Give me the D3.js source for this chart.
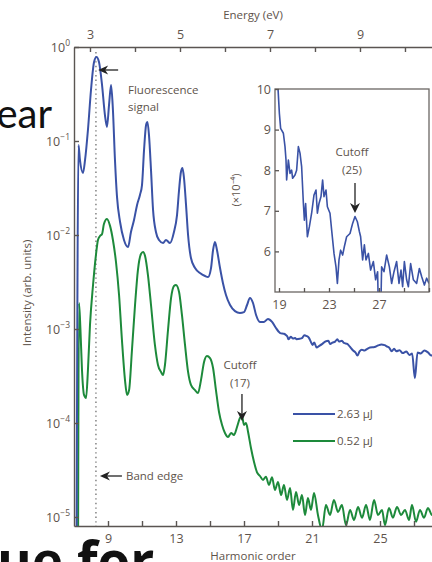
<!DOCTYPE html>
<html><head><meta charset="utf-8">
<script src="https://cdn.jsdelivr.net/npm/d3@7"></script>
<style>
body{margin:0;background:#fff;}
svg{display:block;font-family:'Open Sans',sans-serif;}
</style>
</head><body>
<svg id="chart" width="432" height="562"></svg>
<script>
// ---- data ----
const photonEnergy = 0.3778;            // eV per harmonic order
const harmonicTicks = [9, 11, 13, 15, 17, 19, 21, 23, 25, 27, 29, 31];
const harmonicLabels = [9, 13, 17, 21, 25];
const energyTicks = [3, 4, 5, 6, 7, 8, 9, 10, 11];
const energyLabels = [3, 5, 7, 9];
const decadeExps = [0, -1, -2, -3, -4, -5];
const insetTicksX = [19, 21, 23, 25, 27, 29, 31];
const insetLabelsX = [19, 23, 27];
const insetTicksY = [6, 7, 8, 9, 10];
const bandEdge = 8.29;                  // harmonic order of the band edge
const legendLabels = ["2.63 μJ", "0.52 μJ"];

// 2.63 μJ, harmonic order vs intensity, orders 7–19
const blueLow = [
  [7.14, 1e-6], [7.265, 0.0906], [7.35, 0.0628], [7.53, 0.0457], [7.65, 0.0628],
  [7.82, 0.131], [8.0, 0.349], [8.18, 0.692], [8.32, 0.783], [8.47, 0.692],
  [8.65, 0.394], [8.82, 0.189], [8.94, 0.141], [9.06, 0.241], [9.18, 0.394],
  [9.29, 0.214], [9.41, 0.0628], [9.53, 0.0254], [9.71, 0.01375], [9.94, 0.00885],
  [10.18, 0.00745], [10.35, 0.01076], [10.53, 0.01445], [10.71, 0.0209], [10.88, 0.0267],
  [11.0, 0.034], [11.12, 0.080], [11.24, 0.148], [11.32, 0.159], [11.41, 0.116],
  [11.53, 0.049], [11.65, 0.0185], [11.82, 0.01076], [12.0, 0.00885], [12.24, 0.00822],
  [12.41, 0.00885], [12.65, 0.00822], [12.88, 0.01076], [13.06, 0.0163], [13.18, 0.0301],
  [13.29, 0.0468], [13.38, 0.0516], [13.47, 0.0404], [13.59, 0.0209], [13.71, 0.01],
  [13.88, 0.00569], [14.12, 0.00445], [14.41, 0.00394], [14.71, 0.00366], [14.88, 0.00357],
  [15.06, 0.00445], [15.18, 0.00692], [15.29, 0.00843], [15.41, 0.00692], [15.59, 0.00445],
  [15.76, 0.00309], [15.94, 0.0023], [16.18, 0.0018], [16.47, 0.00155], [16.76, 0.00148],
  [17.0, 0.00151], [17.18, 0.0018], [17.35, 0.00214], [17.53, 0.00189], [17.71, 0.00141],
  [17.94, 0.00119], [18.18, 0.00119], [18.41, 0.00128], [18.65, 0.00119]
];
// 2.63 μJ, orders 18.9–31, intensity in units of 1e-4
const blueHigh = [
  [18.87, 10.3], [19.03, 9.40], [19.13, 9.03], [19.35, 8.91], [19.48, 8.58], [19.56, 8.25],
  [19.61, 7.76], [19.75, 8.25], [19.88, 7.92], [20.01, 8.0], [20.09, 7.80], [20.28, 7.88],
  [20.41, 8.0], [20.55, 8.58], [20.68, 8.42], [20.81, 8.09], [20.95, 7.18], [21.03, 6.77],
  [21.13, 7.18], [21.27, 6.36], [21.43, 6.61], [21.61, 6.94], [21.80, 7.39], [21.96, 7.51],
  [22.07, 6.94], [22.2, 7.18], [22.36, 7.35], [22.49, 7.76], [22.6, 7.35], [22.76, 7.51],
  [22.87, 7.10], [23.08, 6.94], [23.21, 6.53], [23.4, 5.95], [23.56, 5.62], [23.67, 5.21],
  [23.8, 5.79], [23.93, 6.03], [24.09, 5.91], [24.23, 6.12], [24.41, 6.36], [24.68, 6.44],
  [24.89, 6.69], [25.08, 6.86], [25.27, 6.73], [25.43, 6.49], [25.53, 6.36], [25.69, 5.79],
  [25.83, 6.16], [25.96, 5.79], [26.15, 5.95], [26.33, 5.54], [26.55, 5.75], [26.73, 5.30],
  [26.89, 5.50], [27.05, 3.0], [27.21, 5.62], [27.4, 5.50], [27.61, 5.91], [27.83, 5.62],
  [28.01, 5.21], [28.2, 5.50], [28.41, 5.75], [28.6, 5.21], [28.76, 5.54], [28.89, 5.13],
  [29.03, 5.75], [29.21, 5.30], [29.35, 5.13], [29.53, 5.70], [29.75, 5.30], [30.01, 5.21],
  [30.23, 5.58], [30.41, 5.38], [30.63, 5.17], [30.81, 5.34], [31.0, 5.21]
];
// 0.52 μJ, harmonic order vs intensity
const green = [
  [7.23, 1e-6], [7.294, 0.00189], [7.38, 0.000976], [7.47, 0.000366], [7.59, 0.000199],
  [7.71, 0.000185], [7.82, 0.000366], [7.94, 0.0011], [8.12, 0.00294], [8.29, 0.00612],
  [8.41, 0.00885], [8.53, 0.00976], [8.65, 0.01025], [8.76, 0.0131], [8.94, 0.0148],
  [9.12, 0.0125], [9.29, 0.00885], [9.47, 0.00516], [9.65, 0.0023], [9.82, 0.000764],
  [10.0, 0.000286], [10.12, 0.000199], [10.24, 0.000224], [10.41, 0.000598], [10.59, 0.0018],
  [10.76, 0.00424], [10.94, 0.00628], [11.06, 0.00659], [11.18, 0.00598], [11.35, 0.00375],
  [11.53, 0.0018], [11.76, 0.000676], [11.94, 0.000414], [12.12, 0.000349], [12.24, 0.000324],
  [12.35, 0.000414], [12.53, 0.000976], [12.71, 0.00214], [12.88, 0.00287], [13.0, 0.00294],
  [13.18, 0.00248], [13.35, 0.00141], [13.53, 0.000676], [13.71, 0.000349], [13.88, 0.000254],
  [14.12, 0.000224], [14.29, 0.000208], [14.47, 0.000286], [14.65, 0.000446], [14.82, 0.000516],
  [15.0, 0.000491], [15.18, 0.000385], [15.35, 0.000224], [15.53, 0.000131], [15.71, 0.0000953],
  [15.88, 0.0000783], [16.06, 0.000071], [16.24, 0.0000783], [16.41, 0.0000745], [16.59, 0.0000906],
  [16.76, 0.000113], [16.88, 0.000119], [17.0, 0.0000953], [17.12, 0.0001], [17.24, 0.0000802],
  [17.41, 0.0000542], [17.59, 0.0000385], [17.76, 0.0000301], [17.94, 0.0000273], [18.12, 0.0000248],
  [18.29, 0.0000268], [18.47, 0.0000219], [18.65, 0.0000265], [18.82, 0.0000194], [19.0, 0.0000236],
  [19.18, 0.0000171], [19.35, 0.0000219], [19.53, 0.0000152], [19.71, 0.0000204], [19.88, 0.0000119],
  [20.06, 0.0000185], [20.24, 0.0000134], [20.41, 0.0000171], [20.59, 0.0000105], [20.76, 0.0000159],
  [20.94, 0.0000119], [21.12, 0.000018], [21.35, 0.0000105], [21.59, 0.0000073], [21.82, 0.0000134],
  [22.06, 0.0000105], [22.29, 0.0000152], [22.53, 0.0000113], [22.76, 0.0000134], [23.0, 0.0000082],
  [23.24, 0.0000119], [23.47, 0.0000093], [23.71, 0.0000128], [23.94, 0.0000098], [24.18, 0.0000134],
  [24.41, 0.0000093], [24.65, 0.0000152], [24.88, 0.0000105], [25.12, 0.0000119], [25.29, 0.0000082],
  [25.53, 0.0000125], [25.76, 0.0000098], [26.0, 0.0000128], [26.24, 0.0000105], [26.47, 0.0000119],
  [26.71, 0.0000093], [26.88, 0.0000134], [27.12, 0.0000089], [27.35, 0.0000119], [27.59, 0.0000098],
  [27.82, 0.0000125], [28.06, 0.0000105], [28.3, 0.0000128], [28.55, 0.0000095], [28.8, 0.0000122],
  [29.05, 0.0000101], [29.3, 0.0000126], [29.55, 0.0000094], [29.8, 0.000012], [30.1, 0.0000102],
  [30.4, 0.0000124], [30.7, 0.0000097], [31.0, 0.0000115]
];

// ---- styles ----
const BLUE = "#3a52a6", GREEN = "#1d8a3b", TEXT = "#5e534b", AXIS = "#5a5552";

const svg = d3.select("#chart");
const defs = svg.append("defs");

// main scales
const x = d3.scaleLinear().domain([7, 31]).range([74, 74 + 24 * 17]);
const y = d3.scaleLog().domain([8.02e-6, 1]).range([526, 47]);
const xE = d3.scaleLinear().domain([7 * photonEnergy, 31 * photonEnergy]).range(x.range());

defs.append("clipPath").attr("id", "plotClip")
  .append("rect").attr("x", 74).attr("y", 47).attr("width", 420).attr("height", 479);

const blueAll = blueLow.concat(blueHigh.map(d => [d[0], d[1] * 1e-4]));

const line = d3.line().x(d => x(d[0])).y(d => y(d[1])).curve(d3.curveMonotoneX);

// band edge
svg.append("line").attr("x1", x(bandEdge)).attr("x2", x(bandEdge))
  .attr("y1", 52).attr("y2", 526)
  .attr("stroke", "#8a8a8a").attr("stroke-width", 1.6).attr("stroke-dasharray", "1.4,3.2");

const plot = svg.append("g").attr("clip-path", "url(#plotClip)");
plot.append("path").datum(green).attr("d", line)
  .attr("fill", "none").attr("stroke", GREEN).attr("stroke-width", 2).attr("stroke-linejoin", "round");
plot.append("path").datum(blueAll).attr("d", line)
  .attr("fill", "none").attr("stroke", BLUE).attr("stroke-width", 2).attr("stroke-linejoin", "round");

// axes
const axisBottomG = svg.append("g").attr("transform", "translate(0,526)")
  .call(d3.axisBottom(x).tickValues(harmonicTicks).tickSizeInner(-5).tickSizeOuter(0)
    .tickFormat(d => harmonicLabels.includes(d) ? d : ""));
const axisTopG = svg.append("g").attr("transform", "translate(0,47)")
  .call(d3.axisTop(xE).tickValues(energyTicks).tickSizeInner(-5).tickSizeOuter(0)
    .tickFormat(d => energyLabels.includes(d) ? d : ""));
const axisLeftG = svg.append("g").attr("transform", "translate(74,0)")
  .call(d3.axisLeft(y).tickValues(decadeExps.map(e => Math.pow(10, e))).tickSizeInner(-5).tickSizeOuter(0)
    .tickFormat(() => ""));
[axisBottomG, axisTopG, axisLeftG].forEach(g => {
  g.select(".domain").attr("stroke", AXIS).attr("stroke-width", 1.4);
  g.selectAll(".tick line").attr("stroke", AXIS).attr("stroke-width", 1.4);
  g.selectAll(".tick text").attr("fill", TEXT).attr("font-size", 12.5)
    .attr("font-family", "'Open Sans',sans-serif");
});
axisBottomG.selectAll(".tick text").attr("y", 8);
axisTopG.selectAll(".tick text").attr("y", -8);

// decade labels with superscripts
decadeExps.forEach(e => {
  const t = svg.append("text").attr("x", 70).attr("y", y(Math.pow(10, e)) + 5)
    .attr("text-anchor", "end").attr("fill", TEXT).attr("font-size", 12.5);
  t.append("tspan").text("10");
  t.append("tspan").attr("font-size", 8.5).attr("dy", -6)
    .text(e === 0 ? "0" : "\u2212" + Math.abs(e));
});

// axis titles
svg.append("text").attr("x", 253).attr("y", 19).attr("text-anchor", "middle")
  .attr("fill", TEXT).attr("font-size", 11.5).text("Energy (eV)");
svg.append("text").attr("x", 253).attr("y", 560).attr("text-anchor", "middle")
  .attr("fill", TEXT).attr("font-size", 11.5).text("Harmonic order");
svg.append("text").attr("transform", "translate(31,293) rotate(-90)").attr("text-anchor", "middle")
  .attr("fill", TEXT).attr("font-size", 11.5).text("Intensity (arb. units)");

// annotations
function leftArrow(xTip, yy, len) {
  svg.append("line").attr("x1", xTip + 4).attr("x2", xTip + len).attr("y1", yy).attr("y2", yy)
    .attr("stroke", "#222").attr("stroke-width", 1.3);
  svg.append("path").attr("d", `M${xTip},${yy} L${xTip + 10},${yy - 4.5} L${xTip + 7},${yy} L${xTip + 10},${yy + 4.5} Z`)
    .attr("fill", "#222");
}
function downArrow(xx, yTop, yTip) {
  svg.append("line").attr("x1", xx).attr("x2", xx).attr("y1", yTop).attr("y2", yTip - 6)
    .attr("stroke", "#222").attr("stroke-width", 1.3);
  svg.append("path").attr("d", `M${xx},${yTip} L${xx - 5},${yTip - 10} L${xx},${yTip - 7} L${xx + 5},${yTip - 10} Z`)
    .attr("fill", "#222");
}
leftArrow(x(8.42), 70, 20);
svg.append("text").attr("x", 128).attr("y", 94).attr("fill", TEXT).attr("font-size", 11.5).text("Fluorescence");
svg.append("text").attr("x", 128).attr("y", 111).attr("fill", TEXT).attr("font-size", 11.5).text("signal");
leftArrow(x(bandEdge) + 4, 476, 22);
svg.append("text").attr("x", 126).attr("y", 480).attr("fill", TEXT).attr("font-size", 11.5).text("Band edge");

downArrow(x(16.88), 394, 421);
svg.append("text").attr("x", 240).attr("y", 369).attr("text-anchor", "middle").attr("fill", TEXT).attr("font-size", 11.5).text("Cutoff");
svg.append("text").attr("x", 240).attr("y", 387).attr("text-anchor", "middle").attr("fill", TEXT).attr("font-size", 11.5).text("(17)");

// legend
[[BLUE, legendLabels[0], 414], [GREEN, legendLabels[1], 441]].forEach(([c, lab, yy]) => {
  svg.append("line").attr("x1", 293).attr("x2", 335).attr("y1", yy).attr("y2", yy)
    .attr("stroke", c).attr("stroke-width", 2);
  svg.append("text").attr("x", 337).attr("y", yy + 4).attr("fill", TEXT).attr("font-size", 11.5).text(lab);
});

// ---- inset ----
const xi = d3.scaleLinear().domain([18.68, 31.0]).range([275, 429]);
const yi = d3.scaleLinear().domain([5, 10]).range([292, 89]);
svg.append("rect").attr("x", 275).attr("y", 89).attr("width", 154).attr("height", 203)
  .attr("fill", "#fff").attr("stroke", "none");
defs.append("clipPath").attr("id", "insetClip")
  .append("rect").attr("x", 275).attr("y", 89).attr("width", 154).attr("height", 203);
svg.append("path").datum(blueHigh).attr("clip-path", "url(#insetClip)")
  .attr("d", d3.line().x(d => xi(d[0])).y(d => yi(d[1])))
  .attr("fill", "none").attr("stroke", BLUE).attr("stroke-width", 1.6).attr("stroke-linejoin", "round");
svg.append("rect").attr("x", 275).attr("y", 89).attr("width", 154).attr("height", 203)
  .attr("fill", "none").attr("stroke", "#6a6663").attr("stroke-width", 1.3);
const insetBottomG = svg.append("g").attr("transform", "translate(0,292)")
  .call(d3.axisBottom(xi).tickValues(insetTicksX).tickSizeInner(-4).tickSizeOuter(0)
    .tickFormat(d => insetLabelsX.includes(d) ? d : ""));
const insetLeftG = svg.append("g").attr("transform", "translate(275,0)")
  .call(d3.axisLeft(yi).tickValues(insetTicksY).tickSizeInner(-4).tickSizeOuter(0)
    .tickFormat(d3.format("d")));
[insetBottomG, insetLeftG].forEach(g => {
  g.select(".domain").remove();
  g.selectAll(".tick line").attr("stroke", AXIS).attr("stroke-width", 1.3);
  g.selectAll(".tick text").attr("fill", TEXT).attr("font-size", 12.5)
    .attr("font-family", "'Open Sans',sans-serif");
});
insetBottomG.selectAll(".tick text").attr("y", 8);
insetLeftG.selectAll(".tick text").attr("x", -4);
svg.append("text").attr("transform", "translate(240,190) rotate(-90)").attr("text-anchor", "middle")
  .attr("fill", TEXT).attr("font-size", 11).text("(\u00d710\u207b\u2074)");
downArrow(xi(25.08), 183, 213);
svg.append("text").attr("x", 352).attr("y", 156).attr("text-anchor", "middle").attr("fill", TEXT).attr("font-size", 11.5).text("Cutoff");
svg.append("text").attr("x", 352).attr("y", 174).attr("text-anchor", "middle").attr("fill", TEXT).attr("font-size", 11.5).text("(25)");

// slide text around the figure
svg.append("text").attr("x", 52).attr("y", 128).attr("text-anchor", "end")
  .attr("font-family", "Lato, sans-serif").attr("font-size", 40).attr("fill", "#111").text("ear");
svg.append("text").attr("x", -3).attr("y", 580)
  .attr("font-family", "'Open Sans', sans-serif").attr("font-weight", 700).attr("font-size", 53).attr("fill", "#111").text("ue for");
</script>
</body></html>
